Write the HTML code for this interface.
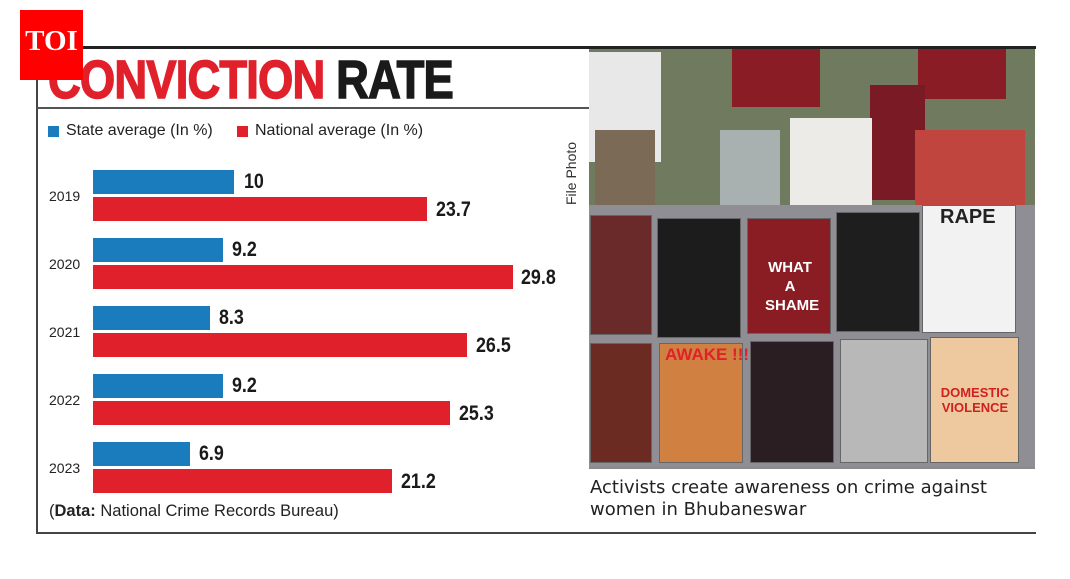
<!DOCTYPE html>
<html><head><style>
body{margin:0;width:1070px;height:579px;background:#fff;position:relative;overflow:hidden;font-family:"Liberation Sans",sans-serif}
div{position:absolute}
.b{background:#1a7bbd;height:24px;left:93px}
.r{background:#e0202a;height:24px;left:93px}
.v{font-weight:bold;font-size:21px;color:#1a1a1a;transform:scaleX(.85);transform-origin:left}
.y{left:49px;font-size:14px;color:#222}
.p{border:1px solid #666}
</style></head><body>
<div style="left:36px;top:46px;width:1000px;height:3px;background:#222"></div>
<div style="left:36px;top:46px;width:2px;height:488px;background:#444"></div>
<div style="left:36px;top:532px;width:1000px;height:2px;background:#444"></div>
<div style="left:37px;top:107px;width:553px;height:2px;background:#555"></div>
<div style="left:48px;top:52px;font-size:54px;font-weight:bold;transform:scaleX(.84);transform-origin:left;letter-spacing:-1px;white-space:nowrap;line-height:56px;-webkit-text-stroke:1.5px"><span style="color:#e0202a">CONVICTION</span> <span style="color:#1a1a1a">RATE</span></div>
<div style="left:20px;top:10px;width:63px;height:70px;background:#ff0000;color:#fff;font-family:'Liberation Serif',serif;font-weight:bold;font-size:29px;line-height:62px;text-align:center">TOI</div>
<div style="left:48px;top:126px;width:11px;height:11px;background:#1a7bbd"></div>
<div style="left:66px;top:122px;font-size:16px;color:#222;white-space:nowrap">State average (In %)</div>
<div style="left:237px;top:126px;width:11px;height:11px;background:#e0202a"></div>
<div style="left:255px;top:122px;font-size:16px;color:#222;white-space:nowrap">National average (In %)</div>
<div style="left:563px;top:205px;transform:rotate(-90deg);transform-origin:left top;font-size:14px;color:#333;white-space:nowrap">File Photo</div>

<div class="y" style="top:188px">2019</div>
<div class="b" style="top:170px;width:141px"></div><div class="v" style="left:244px;top:170px">10</div>
<div class="r" style="top:197px;width:334px"></div><div class="v" style="left:436px;top:198px">23.7</div>
<div class="y" style="top:256px">2020</div>
<div class="b" style="top:238px;width:130px"></div><div class="v" style="left:232px;top:238px">9.2</div>
<div class="r" style="top:265px;width:420px"></div><div class="v" style="left:521px;top:266px">29.8</div>
<div class="y" style="top:324px">2021</div>
<div class="b" style="top:306px;width:117px"></div><div class="v" style="left:219px;top:306px">8.3</div>
<div class="r" style="top:333px;width:374px"></div><div class="v" style="left:476px;top:334px">26.5</div>
<div class="y" style="top:392px">2022</div>
<div class="b" style="top:374px;width:130px"></div><div class="v" style="left:232px;top:374px">9.2</div>
<div class="r" style="top:401px;width:357px"></div><div class="v" style="left:459px;top:402px">25.3</div>
<div class="y" style="top:460px">2023</div>
<div class="b" style="top:442px;width:97px"></div><div class="v" style="left:199px;top:442px">6.9</div>
<div class="r" style="top:469px;width:299px"></div><div class="v" style="left:401px;top:470px">21.2</div>
<div style="left:49px;top:502px;font-size:16.5px;color:#222;white-space:nowrap">(<b>Data:</b> National Crime Records Bureau)</div>

<!-- photo -->
<div style="left:589px;top:49px;width:446px;height:420px;background:#8a8a88"></div>
<div style="left:589px;top:49px;width:446px;height:160px;background:#6f7a5e"></div>
<div style="left:589px;top:52px;width:72px;height:110px;background:#e8e8e8"></div>
<div style="left:732px;top:49px;width:88px;height:58px;background:#8a1c26"></div>
<div style="left:918px;top:49px;width:88px;height:50px;background:#8a1c26"></div>
<div style="left:870px;top:85px;width:55px;height:115px;background:#7a1a24"></div>
<div style="left:790px;top:118px;width:82px;height:90px;background:#ecebe8"></div>
<div style="left:595px;top:130px;width:60px;height:75px;background:#7b6a55"></div>
<div style="left:720px;top:130px;width:60px;height:75px;background:#a9b0b0"></div>
<div style="left:915px;top:130px;width:110px;height:75px;background:#c0453f"></div>
<div style="left:589px;top:205px;width:446px;height:262px;background:#8e8e94"></div>
<div class="p" style="left:590px;top:215px;width:60px;height:118px;background:#6a2a2a"></div>
<div class="p" style="left:657px;top:218px;width:82px;height:118px;background:#1c1c1c"></div>
<div class="p" style="left:747px;top:218px;width:82px;height:114px;background:#8a1c24"></div>
<div class="p" style="left:836px;top:212px;width:82px;height:118px;background:#1e1e1e"></div>
<div class="p" style="left:922px;top:205px;width:92px;height:126px;background:#f2f2f2"></div>
<div class="p" style="left:590px;top:343px;width:60px;height:118px;background:#6b2a22"></div>
<div class="p" style="left:659px;top:343px;width:82px;height:118px;background:#d08040"></div>
<div class="p" style="left:750px;top:341px;width:82px;height:120px;background:#2a1e22"></div>
<div class="p" style="left:840px;top:339px;width:86px;height:122px;background:#b8b8b8"></div>
<div class="p" style="left:930px;top:337px;width:87px;height:124px;background:#eec9a0"></div>
<div style="left:765px;top:258px;color:#fff;font-weight:bold;font-size:15px;text-align:center;width:50px;line-height:19px">WHAT A SHAME</div>
<div style="left:940px;top:206px;color:#222;font-weight:bold;font-size:20px">RAPE</div>
<div style="left:665px;top:345px;color:#e0202a;font-weight:bold;font-size:17px">AWAKE !!!</div>
<div style="left:936px;top:385px;color:#d02020;font-weight:bold;font-size:13px;line-height:15px;text-align:center;width:78px">DOMESTIC VIOLENCE</div>
<div style="left:590px;top:477px;font-family:'DejaVu Sans',sans-serif;font-size:18px;color:#222;line-height:22px;white-space:nowrap">Activists create awareness on crime against<br>women in Bhubaneswar</div>
</body></html>
